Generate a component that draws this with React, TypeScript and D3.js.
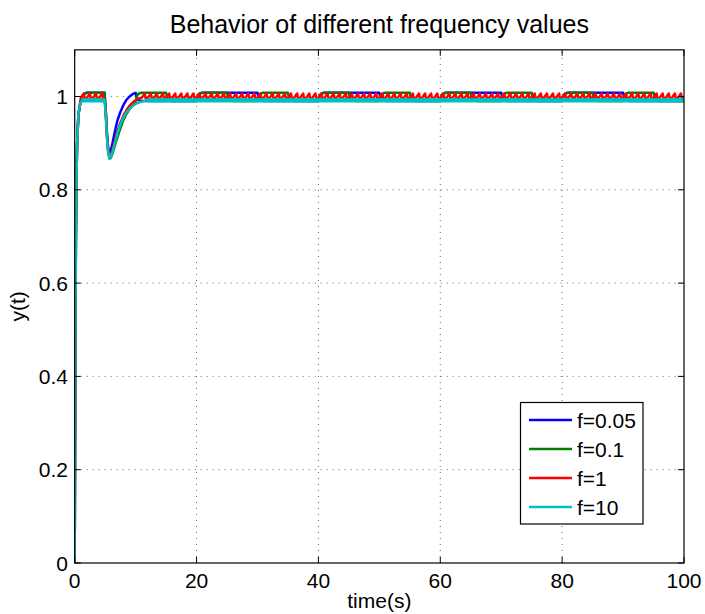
import React from "react";
import * as d3 from "d3";

// ---- data ----
const xTicks = [0, 20, 40, 60, 80, 100];
const yTicks = [0, 0.2, 0.4, 0.6, 0.8, 1];
const yTickLabels = ["0", "0.2", "0.4", "0.6", "0.8", "1"];
const seriesNames = ["f=0.05", "f=0.1", "f=1", "f=10"];
const seriesColors = ["#0000ff", "#008000", "#ff0000", "#00bfbf"];

// common initial rise (t, y)
const riseT = [0, 0.1, 0.2, 0.3, 0.4, 0.6, 0.9];
const riseY = [0, 0.45, 0.7, 0.83, 0.9, 0.96, 0.985];

// f=0.05 (blue) transient then switching
const blueT = [1.2, 1.6, 2.0, 4.9, 5.1, 5.3, 5.5, 5.7, 5.9, 6.2, 6.6, 7.0, 7.5, 8.0, 8.5, 9.0, 9.5, 10.0];
const blueY = [1.0, 1.006, 1.008, 1.008, 0.97, 0.92, 0.89, 0.878, 0.882, 0.9, 0.925, 0.948, 0.967, 0.982, 0.993, 1.0, 1.005, 1.008];
const blueSwitchT = [10, 20, 30, 40, 50, 60, 70, 80, 90];
const blueSwitchY = [0.9905, 1.008, 0.9905, 1.008, 0.9905, 1.008, 0.9905, 1.008, 0.9905];

// f=0.1 (green)
const greenT = [1.2, 1.6, 2.0, 4.9, 5.1, 5.3, 5.5, 5.7, 5.9, 6.2, 6.6, 7.0, 7.5, 8.0, 8.5, 9.0, 9.5, 10.0];
const greenY = [1.0, 1.006, 1.008, 1.008, 0.965, 0.915, 0.882, 0.867, 0.868, 0.878, 0.895, 0.912, 0.932, 0.95, 0.963, 0.973, 0.981, 0.987];
const greenSwitchT = [10, 15, 20, 25, 30, 35, 40, 45, 50, 55, 60, 65, 70, 75, 80, 85, 90, 95];
const greenSwitchY = [1.008, 0.9905, 1.008, 0.9905, 1.008, 0.9905, 1.008, 0.9905, 1.008, 0.9905, 1.008, 0.9905, 1.008, 0.9905, 1.008, 0.9905, 1.008, 0.9905];

// step transition shape (offset in s, fraction of the jump)
const stepOffsets = [0, 0.1, 0.2, 0.35, 0.6, 1.0];
const stepFrac = [0, 0.35, 0.6, 0.8, 0.95, 1];

// f=1 (red): teeth shape per cycle and dip
const redToothOffsets = [0, 0.5, 0.62];
const redToothY = [0.997, 1.0065, 0.997];
const redCyclesBefore = [1, 2, 3, 4];
const redDipT = [4.9, 5.1, 5.3, 5.5, 5.7, 5.9, 6.2, 6.6, 7.0, 7.5, 8.0, 8.5, 9.0, 9.5, 10.0, 10.5];
const redDipY = [0.997, 0.965, 0.915, 0.883, 0.869, 0.872, 0.885, 0.905, 0.925, 0.944, 0.959, 0.971, 0.98, 0.987, 0.992, 0.996];
const redCyclesAfterFrom = 11;

// f=10 (cyan): ripple levels and dip
const cyanRipple = [0.990, 0.9935];
const cyanRipplePeriod = 0.1;
const cyanDipT = [4.9, 5.1, 5.3, 5.5, 5.7, 5.9, 6.2, 6.6, 7.0, 7.5, 8.0, 8.5, 9.0, 9.5, 10.0, 10.5, 11, 11.5, 12];
const cyanDipY = [0.992, 0.958, 0.91, 0.88, 0.868, 0.87, 0.882, 0.9, 0.92, 0.94, 0.955, 0.966, 0.974, 0.98, 0.984, 0.987, 0.989, 0.991, 0.992];

type P = [number, number];

function zipPts(t: number[], y: number[]): P[] {
  return t.map((v, i) => [v, y[i]] as P);
}

function switching(start: P[], sw: number[], lv: number[]): P[] {
  const pts = start.slice();
  let prev = pts[pts.length - 1][1];
  sw.forEach((t0, i) => {
    const next = lv[i];
    stepOffsets.forEach((o, j) => pts.push([t0 + o, prev + (next - prev) * stepFrac[j]]));
    prev = next;
  });
  pts.push([100, prev]);
  return pts;
}

function redSeries(): P[] {
  const pts: P[] = zipPts(riseT, riseY);
  const tooth = (k: number) => redToothOffsets.forEach((o, j) => pts.push([k + o, redToothY[j]]));
  redCyclesBefore.forEach(tooth);
  zipPts(redDipT, redDipY).forEach((p) => pts.push(p));
  d3.range(redCyclesAfterFrom, 100).forEach(tooth);
  pts.push([100, redToothY[0]]);
  return pts;
}

function cyanSeries(): P[] {
  const pts: P[] = zipPts(riseT, riseY);
  const half = cyanRipplePeriod / 2;
  d3.range(1.2, 4.9, half).forEach((t, i) => pts.push([t, cyanRipple[i % 2]]));
  zipPts(cyanDipT, cyanDipY).forEach((p) => pts.push(p));
  d3.range(12 + half, 100, half).forEach((t, i) => pts.push([t, cyanRipple[(i + 1) % 2]]));
  pts.push([100, cyanRipple[0]]);
  return pts;
}

const W = 705;
const H = 614;
const L = 74.7, R = 684, T = 49.85, B = 563;

export default function App() {
  const x = d3.scaleLinear().domain([0, 100]).range([L, R]);
  const y = d3.scaleLinear().domain([0, 1.1]).range([B, T]);
  const line = d3.line<P>().x((d) => x(d[0])).y((d) => y(d[1]));

  const blue = switching(zipPts(riseT, riseY).concat(zipPts(blueT, blueY)), blueSwitchT, blueSwitchY);
  const green = switching(zipPts(riseT, riseY).concat(zipPts(greenT, greenY)), greenSwitchT, greenSwitchY);
  const red = redSeries();
  const cyan = cyanSeries();
  const all = [blue, green, red, cyan];

  const font = "'Liberation Sans', Arial, Helvetica, sans-serif";
  const legX = 520.5, legY = 402.5, legW = 122.5, legH = 121.5;
  const legRows = [420, 449, 478, 507];

  return (
    <svg width={W} height={H} style={{ position: "absolute", left: 0, top: 0, background: "#fff" }} fontFamily={font}>
      <rect x={0} y={0} width={W} height={H} fill="#fff" />
      <defs>
        <clipPath id="plotclip">
          <rect x={L} y={T} width={R - L} height={B - T} />
        </clipPath>
      </defs>
      {/* grid */}
      {xTicks.slice(1, -1).map((t) => (
        <line key={"gx" + t} x1={x(t)} x2={x(t)} y1={B} y2={T} stroke="#666" strokeWidth={1} strokeDasharray="1,5" />
      ))}
      {yTicks.slice(1).map((t) => (
        <line key={"gy" + t} x1={L} x2={R} y1={y(t)} y2={y(t)} stroke="#666" strokeWidth={1} strokeDasharray="1,5" />
      ))}
      {/* series */}
      <g clipPath="url(#plotclip)">
        {all.map((s, i) => (
          <path key={i} d={line(s) || ""} fill="none" stroke={seriesColors[i]} strokeWidth={2.5} strokeLinejoin="round" />
        ))}
      </g>
      {/* frame */}
      <rect x={L} y={T} width={R - L} height={B - T} fill="none" stroke="#000" strokeWidth={1.2} />
      {/* ticks */}
      {xTicks.map((t) => (
        <g key={"tx" + t}>
          <line x1={x(t)} x2={x(t)} y1={B} y2={B - 6} stroke="#000" />
          <line x1={x(t)} x2={x(t)} y1={T} y2={T + 6} stroke="#000" />
          <text x={x(t)} y={588} fontSize={21} textAnchor="middle" fill="#000">{t}</text>
        </g>
      ))}
      {yTicks.map((t, i) => (
        <g key={"ty" + t}>
          <line x1={L} x2={L + 6} y1={y(t)} y2={y(t)} stroke="#000" />
          <line x1={R} x2={R - 6} y1={y(t)} y2={y(t)} stroke="#000" />
          <text x={68} y={y(t) + 7.5} fontSize={21} textAnchor="end" fill="#000">{yTickLabels[i]}</text>
        </g>
      ))}
      {/* labels */}
      <text x={(L + R) / 2} y={33} fontSize={25} textAnchor="middle" fill="#000">Behavior of different frequency values</text>
      <text x={(L + R) / 2} y={608} fontSize={21} textAnchor="middle" fill="#000">time(s)</text>
      <text transform={`translate(25, ${(T + B) / 2}) rotate(-90)`} fontSize={21} textAnchor="middle" fill="#000">y(t)</text>
      {/* legend */}
      <rect x={legX} y={legY} width={legW} height={legH} fill="#fff" stroke="#000" strokeWidth={1.2} />
      {seriesNames.map((n, i) => (
        <g key={n}>
          <line x1={529} x2={572} y1={legRows[i]} y2={legRows[i]} stroke={seriesColors[i]} strokeWidth={2.5} />
          <text x={577} y={legRows[i] + 7.5} fontSize={21} fill="#000">{n}</text>
        </g>
      ))}
    </svg>
  );
}
